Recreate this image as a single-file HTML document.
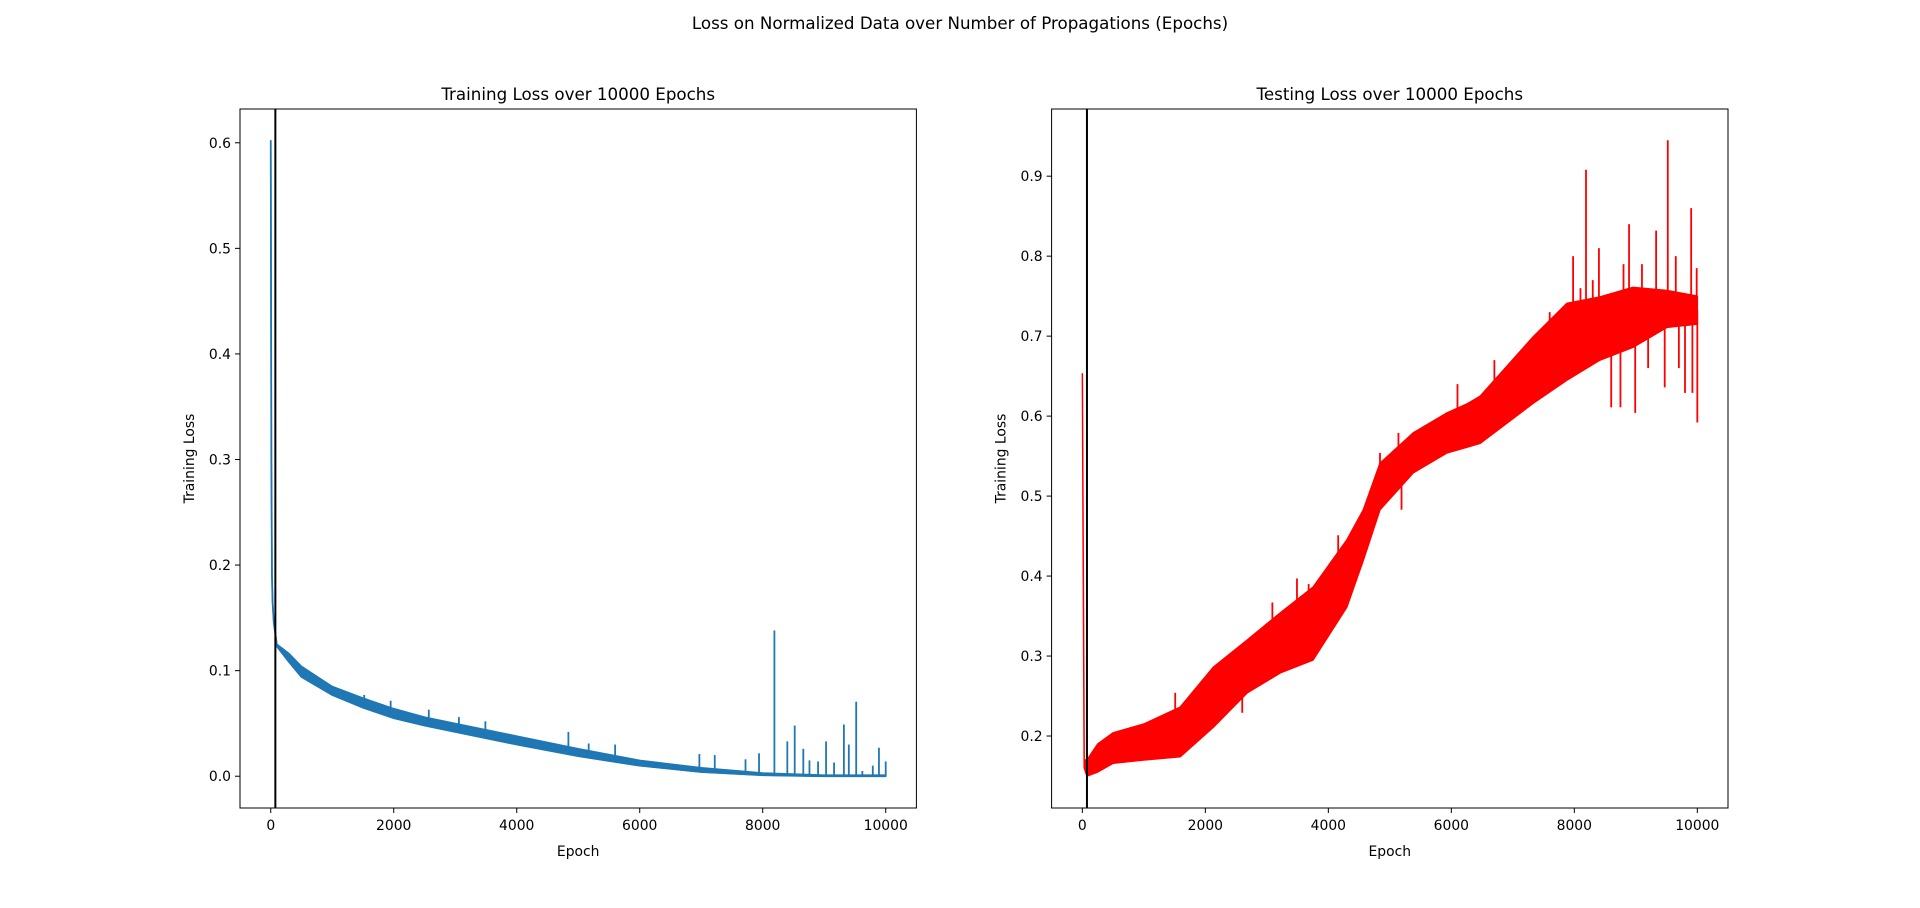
<!DOCTYPE html>
<html><head><meta charset="utf-8"><style>
html,body{margin:0;padding:0;background:#fff;}
svg{display:block;font-family:"DejaVu Sans","Liberation Sans",sans-serif;}
</style></head><body>
<svg id="fig" width="1920" height="908" viewBox="0 0 1920 908" xmlns="http://www.w3.org/2000/svg">
<rect width="1920" height="908" fill="#fff"/>
<text x="960" y="29" font-size="16.7" text-anchor="middle">Loss on Normalized Data over Number of Propagations (Epochs)</text>
<g id="left"></g>
<g id="right"></g>
</svg>
<script>
// ---- Training chart data ----
const trainEpochs = [0, 10, 20, 30, 50, 75, 100, 300, 500, 1000, 1500, 2000, 2500, 3000, 4000, 5000, 6000, 7000, 8000, 9000, 10000];
const trainBase   = [0.602, 0.30, 0.19, 0.165, 0.145, 0.135, 0.123, 0.108, 0.094, 0.077, 0.065, 0.055, 0.048, 0.042, 0.030, 0.019, 0.010, 0.004, 0.001, 0.0, 0.0];
const trainUpper  = [0.602, 0.30, 0.19, 0.165, 0.145, 0.135, 0.125, 0.116, 0.104, 0.085, 0.074, 0.064, 0.056, 0.050, 0.038, 0.026, 0.015, 0.008, 0.003, 0.001, 0.001];
const trainSpikeEpochs = [1520, 1950, 2570, 3060, 3490, 4840, 5170, 5600, 6970, 7220, 7720, 7940, 8190, 8400, 8520, 8660, 8760, 8900, 9030, 9160, 9320, 9400, 9520, 9620, 9790, 9890, 10000];
const trainSpikeVals   = [0.077, 0.0715, 0.063, 0.056, 0.052, 0.042, 0.031, 0.030, 0.021, 0.020, 0.016, 0.0217, 0.138, 0.033, 0.048, 0.026, 0.015, 0.014, 0.033, 0.013, 0.049, 0.030, 0.0706, 0.005, 0.010, 0.027, 0.014];
const trainYTicks = [0.0, 0.1, 0.2, 0.3, 0.4, 0.5, 0.6];
const xTicks = [0, 2000, 4000, 6000, 8000, 10000];

// ---- Testing chart data ----
const testEpochs = [0, 30, 75, 250, 500, 1000, 1590, 2130, 2680, 3220, 3750, 4300, 4570, 4840, 5380, 5930, 6250, 6470, 7330, 7880, 8415, 8953, 9506, 10000];
const testUpper  = [0.653, 0.17, 0.17, 0.19, 0.204, 0.215, 0.236, 0.286, 0.320, 0.354, 0.386, 0.445, 0.483, 0.541, 0.579, 0.604, 0.615, 0.625, 0.699, 0.741, 0.749, 0.761, 0.757, 0.750];
const testLower  = [0.653, 0.16, 0.15, 0.155, 0.166, 0.170, 0.174, 0.211, 0.254, 0.279, 0.295, 0.361, 0.420, 0.483, 0.529, 0.554, 0.561, 0.566, 0.616, 0.645, 0.670, 0.686, 0.711, 0.715];
const testSpikeEpochs = [1510, 2600, 3090, 3490, 3680, 4160, 4840, 5140, 5190, 5800, 6100, 6700, 7200, 7600, 7980, 8100, 8190, 8300, 8400, 8600, 8750, 8800, 8890, 8990, 9100, 9200, 9330, 9470, 9520, 9650, 9700, 9800, 9900, 9920, 9990, 10000];
const testSpikeVals   = [0.254, 0.229, 0.367, 0.397, 0.390, 0.451, 0.554, 0.579, 0.483, 0.590, 0.640, 0.670, 0.620, 0.730, 0.800, 0.760, 0.908, 0.770, 0.810, 0.611, 0.611, 0.790, 0.840, 0.604, 0.790, 0.660, 0.832, 0.636, 0.945, 0.800, 0.660, 0.629, 0.860, 0.629, 0.785, 0.592];
const testYTicks = [0.2, 0.3, 0.4, 0.5, 0.6, 0.7, 0.8, 0.9];
const markerEpoch = 75;

const NS = "http://www.w3.org/2000/svg";
function mk(parent, tag, attrs){ const e=document.createElementNS(NS,tag); for(const k in attrs) e.setAttribute(k,attrs[k]); parent.appendChild(e); return e; }
function interp(ex, arr, e){ for(let j=0;j<ex.length-1;j++) if(e>=ex[j]&&e<=ex[j+1]){const f=(e-ex[j])/(ex[j+1]-ex[j]); return arr[j]+f*(arr[j+1]-arr[j]);} return arr[arr.length-1]; }

function chart(g, ax, ylim, yTicks, title, drawSeries){
  const xs = v => ax.x0 + (v - (-500)) / (10499 - (-500)) * (ax.x1 - ax.x0);
  const ys = v => ax.y1 - (v - ylim[0]) / (ylim[1] - ylim[0]) * (ax.y1 - ax.y0);
  const clip = mk(g,'clipPath',{id:g.id+'-clip'});
  mk(clip,'rect',{x:ax.x0,y:ax.y0,width:ax.x1-ax.x0,height:ax.y1-ax.y0});
  const s = mk(g,'g',{'clip-path':'url(#'+g.id+'-clip)'});
  
  
  drawSeries(s, xs, ys);
  const ml = mk(s,'line',{x1:xs(markerEpoch),x2:xs(markerEpoch),y1:ax.y0,y2:ax.y1,stroke:'#000','stroke-width':2});
  
  
  const fr = mk(g,'rect',{x:ax.x0,y:ax.y0,width:ax.x1-ax.x0,height:ax.y1-ax.y0,fill:'none',stroke:'#000','stroke-width':1});
  
  
  xTicks.forEach(t=>{
    const x=xs(t);
    mk(g,'line',{x1:x,x2:x,y1:ax.y1,y2:ax.y1+5,stroke:'#000','stroke-width':1});
    const tx=mk(g,'text',{x:x,y:ax.y1+22,'font-size':13.9,'text-anchor':'middle'});
    tx.textContent=t;
    
    
  });
  yTicks.forEach(t=>{
    const y=ys(t);
    mk(g,'line',{x1:ax.x0-5,x2:ax.x0,y1:y,y2:y,stroke:'#000','stroke-width':1});
    const tx=mk(g,'text',{x:ax.x0-9,y:y+5,'font-size':13.9,'text-anchor':'end'});
    tx.textContent=t.toFixed(1);
    
    
  });
  const cx=(ax.x0+ax.x1)/2;
  const tt=mk(g,'text',{x:cx,y:ax.y0-9,'font-size':16.7,'text-anchor':'middle'});
  tt.textContent=title;
  
  
  const xl=mk(g,'text',{x:cx,y:ax.y1+48,'font-size':13.9,'text-anchor':'middle'});
  xl.textContent='Epoch';
  
  
  const cy=(ax.y0+ax.y1)/2, lx=ax.x0-46;
  const yl=mk(g,'text',{x:lx,y:cy,'font-size':13.9,'text-anchor':'middle',transform:'rotate(-90 '+lx+' '+cy+')'});
  yl.textContent='Training Loss';
  
  
}

chart(document.getElementById('left'), {x0:240,x1:916.4,y0:109,y1:808}, [-0.0301,0.632], trainYTicks,
  'Training Loss over 10000 Epochs', (s,xs,ys)=>{
    let up='', lo='';
    trainEpochs.forEach((e,i)=>{ up+=xs(e)+','+ys(trainUpper[i])+' '; });
    for(let i=trainEpochs.length-1;i>=0;i--) lo+=xs(trainEpochs[i])+','+ys(trainBase[i])+' ';
    const band=mk(s,'polygon',{points:up+lo,fill:'#1f77b4',stroke:'#1f77b4','stroke-width':1.5,'stroke-linejoin':'round'});
    
    
    const ln=mk(s,'polyline',{points:trainEpochs.map((e,i)=>xs(e)+','+ys(trainBase[i])).join(' '),fill:'none',stroke:'#1f77b4','stroke-width':1.8});
    
    
    trainSpikeEpochs.forEach((e,i)=>{
      const b=interp(trainEpochs, trainBase, e);
      const sp=mk(s,'line',{x1:xs(e),x2:xs(e),y1:ys(b),y2:ys(trainSpikeVals[i]),stroke:'#1f77b4','stroke-width':1.8});
      
      
    });
  });

chart(document.getElementById('right'), {x0:1051.6,x1:1728,y0:109,y1:808}, [0.110,0.984], testYTicks,
  'Testing Loss over 10000 Epochs', (s,xs,ys)=>{
    let up='', lo='';
    testEpochs.forEach((e,i)=>{ up+=xs(e)+','+ys(testUpper[i])+' '; });
    for(let i=testEpochs.length-1;i>=0;i--) lo+=xs(testEpochs[i])+','+ys(testLower[i])+' ';
    const band=mk(s,'polygon',{points:up+lo,fill:'#ff0000',stroke:'#ff0000','stroke-width':1.5,'stroke-linejoin':'round'});
    
    
    testSpikeEpochs.forEach((e,i)=>{
      const m=(interp(testEpochs,testLower,e)+interp(testEpochs,testUpper,e))/2;
      const sp=mk(s,'line',{x1:xs(e),x2:xs(e),y1:ys(m),y2:ys(testSpikeVals[i]),stroke:'#ff0000','stroke-width':1.8});
      
      
    });
  });
</script>
</body></html>
